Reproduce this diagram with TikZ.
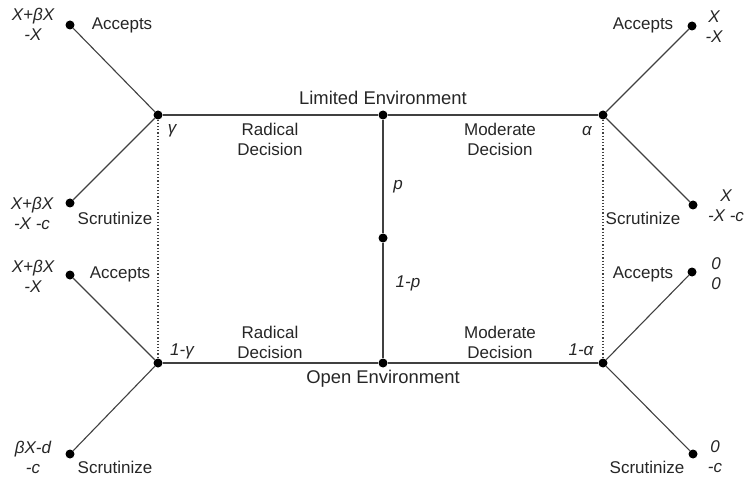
\documentclass[tikz,border=0pt]{standalone}
\usepackage{fontspec}
\setsansfont{Liberation Sans}
\tikzset{
  txt_n/.style = {align=center, inner sep=0pt, text=black!85, font=\sffamily\fontsize{17}{20}\selectfont},
  env_n/.style = {txt_n, font=\sffamily\fontsize{18.4}{21}\selectfont},
  pay_n/.style = {txt_n, font=\sffamily\itshape\fontsize{17}{20}\selectfont},
  dot_n/.style = {circle, fill=black, inner sep=0pt, minimum size=9pt},
  edge_l/.style = {draw=black!75, line width=1.1pt},
  info_l/.style = {draw=black!75, dotted, line width=1.2pt}
}
\begin{document}
\begin{tikzpicture}[x=1pt, y=-1pt]
	\useasboundingbox (0,0) rectangle (746,478);
	% decision nodes
	\node [dot_n] (lim)  at (383,115) {};
	\node [dot_n] (nat)  at (383,238) {};
	\node [dot_n] (opn)  at (383,363) {};
	\node [dot_n] (gam)  at (158,115) {};
	\node [dot_n] (alf)  at (603,115) {};
	\node [dot_n] (gamb) at (158,363) {};
	\node [dot_n] (alfb) at (603,363) {};
	% end points
	\node [dot_n] (lacc1) at (70,25)  {};
	\node [dot_n] (lscr1) at (70,203) {};
	\node [dot_n] (lacc2) at (70,275) {};
	\node [dot_n] (lscr2) at (70,454) {};
	\node [dot_n] (racc1) at (692,26)  {};
	\node [dot_n] (rscr1) at (693,205) {};
	\node [dot_n] (racc2) at (692,272) {};
	\node [dot_n] (rscr2) at (693,454) {};

	\draw [info_l] (gam) -- (gamb);
	\draw [info_l] (alf) -- (alfb);
	\draw [edge_l] (lim) -- (nat) -- (opn);
	\draw [edge_l] (gam) -- (lim) -- (alf);
	\draw [edge_l] (gamb) -- (opn) -- (alfb);
	\draw [edge_l] (lacc1) -- (gam) -- (lscr1);
	\draw [edge_l] (lacc2) -- (gamb) -- (lscr2);
	\draw [edge_l] (racc1) -- (alf) -- (rscr1);
	\draw [edge_l] (racc2) -- (alfb) -- (rscr2);

	% texts
	\node [env_n] (limt) at (383,98)  {Limited Environment};
	\node [env_n] (opnt) at (383,379) {Open Environment};
	\node [txt_n] (rad1) at (270,139) {Radical\\Decision};
	\node [txt_n] (mod1) at (500,139) {Moderate\\Decision};
	\node [txt_n] (rad2) at (270,342) {Radical\\Decision};
	\node [txt_n] (mod2) at (500,342) {Moderate\\Decision};
	\node [pay_n] (gamt)  at (172,131) {γ};
	\node [pay_n] (gambt) at (182,351) {1-γ};
	\node [pay_n] (alft)  at (587,131) {α};
	\node [pay_n] (alfbt) at (581,350) {1-α};
	\node [pay_n] (pt)  at (398,187) {p};
	\node [pay_n] (qt)  at (408,283) {1-p};

	\node [txt_n] at (122,25)  {Accepts};
	\node [txt_n] at (115,218) {Scrutinize};
	\node [txt_n] at (120,274) {Accepts};
	\node [txt_n] at (115,467) {Scrutinize};
	\node [txt_n] at (643,25)  {Accepts};
	\node [txt_n] at (643,218) {Scrutinize};
	\node [txt_n] at (643,274) {Accepts};
	\node [txt_n] at (647,467) {Scrutinize};

	\node [pay_n] at (33,24)   {X+βX\\-X};
	\node [pay_n] at (32,213)  {X+βX\\-X -c};
	\node [pay_n] at (33,276)  {X+βX\\-X};
	\node [pay_n] at (33,457)  {βX-d\\-c};
	\node [pay_n] at (714,27)  {X\\-X};
	\node [pay_n] at (726,206) {X\\-X -c};
	\node [pay_n] at (716,274) {0\\0};
	\node [pay_n] at (715,457) {0\\-c};
\end{tikzpicture}
\end{document}
